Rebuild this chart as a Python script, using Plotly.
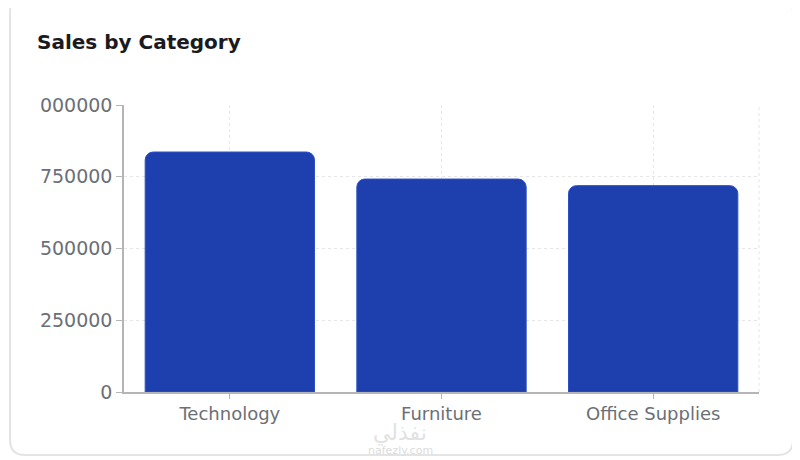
import plotly.graph_objects as go

categories = ["Technology", "Furniture", "Office Supplies"]
sales = [836154, 741999, 719047]
y_ticks = [0, 250000, 500000, 750000, 1000000]

# the page puts the figure 8px in from the top-left corner
OFF = 8
W_PX, H_PX = 800 - OFF, 460 - OFF
PL, PR, PT, PB = 124, 759, 105, 392  # plot area in screen pixels
PW, PH = PR - PL, PB - PT


def px(x):
    return (x - PL) / PW


def py(y):
    return (PB - y) / PH


fig = go.Figure()
fig.add_trace(go.Bar(
    x=categories, y=sales,
    marker=dict(color="#1e40af", cornerradius=8,
                line=dict(color="#2b4fc4", width=1)),
    hoverinfo="x+y",
))

grid = "#e6e6e6"
axis_c = "#b5b5b5"

fig.update_layout(
    width=W_PX, height=H_PX,
    margin=dict(l=PL - OFF, r=800 - PR, t=PT - OFF, b=460 - PB),
    paper_bgcolor="white", plot_bgcolor="white",
    showlegend=False, bargap=0.2,
    title=dict(text="<b>Sales by Category</b>", x=(37 - OFF) / W_PX, xanchor="left",
               y=1 - (42 - OFF) / H_PX, yanchor="middle", xref="container", yref="container",
               font=dict(family="DejaVu Sans", size=20, color="#1b1b1f")),
    xaxis=dict(showgrid=True, gridcolor=grid, griddash="3px,3px", gridwidth=1,
               showline=True, linecolor=axis_c, linewidth=1.5,
               ticks="outside", ticklen=5, tickcolor=axis_c,
               tickfont=dict(family="DejaVu Sans", size=18, color="#6b6f76"),
               fixedrange=True),
    yaxis=dict(range=[0, 1000000], tickvals=y_ticks, tickformat="d",
               showgrid=True, gridcolor=grid, griddash="3px,3px", gridwidth=1,
               zeroline=False,
               showline=True, linecolor=axis_c, linewidth=1.5,
               ticks="outside", ticklen=6, tickcolor=axis_c,
               tickfont=dict(family="DejaVu Sans", size=19, color="#6b6f76"),
               fixedrange=True),
)

# right edge dashed grid line
fig.add_shape(type="line", xref="paper", yref="paper", x0=1, x1=1, y0=0, y1=1,
              line=dict(color=grid, width=1, dash="3px,3px"), layer="below")

# clip tick labels at the card's inner padding
fig.add_shape(type="rect", xref="paper", yref="paper",
              x0=px(OFF - 2), x1=px(41), y0=py(440), y1=py(80),
              fillcolor="white", line=dict(width=0), layer="above")

# card border (rounded rectangle)
x0, x1, y0, y1, r = 10, 793, -3, 455, 15
path = (f"M {px(x0 + r)},{py(y0)} L {px(x1 - r)},{py(y0)} "
        f"Q {px(x1)},{py(y0)} {px(x1)},{py(y0 + r)} "
        f"L {px(x1)},{py(y1 - r)} Q {px(x1)},{py(y1)} {px(x1 - r)},{py(y1)} "
        f"L {px(x0 + r)},{py(y1)} Q {px(x0)},{py(y1)} {px(x0)},{py(y1 - r)} "
        f"L {px(x0)},{py(y0 + r)} Q {px(x0)},{py(y0)} {px(x0 + r)},{py(y0)} Z")
fig.add_shape(type="path", xref="paper", yref="paper", path=path,
              line=dict(color="#e4e4e4", width=2), layer="above")

# watermark
fig.add_annotation(text="نفذلي", xref="paper", yref="paper", x=px(400), y=py(433),
                   xanchor="center", yanchor="middle",
                   showarrow=False, font=dict(family="DejaVu Sans", size=22, color="#e2e2e2"))
fig.add_annotation(text="nafezly.com", xref="paper", yref="paper", x=px(400), y=py(450),
                   xanchor="center", yanchor="middle",
                   showarrow=False, font=dict(family="DejaVu Sans", size=11, color="#dcdcdc"))

fig.write_html("out.html")
